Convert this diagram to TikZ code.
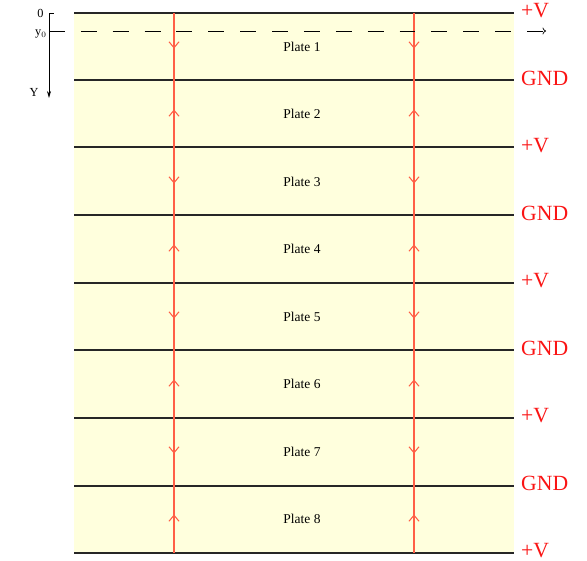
\documentclass[tikz,border=0pt]{standalone}
\usepackage{fontspec}
\setmainfont{Liberation Serif}
\usetikzlibrary{arrows.meta}
\definecolor{platebg}{RGB}{255,255,221}
\definecolor{fieldred}{RGB}{255,95,70}
\definecolor{voltred}{RGB}{250,20,20}
\tikzset{
    plateline/.style = {line width=1.7pt, black!85},
    fieldline/.style = {line width=1pt, fieldred},
    fieldhead/.style = {line width=0.9pt, fieldred, line join=miter},
    volt/.style = {anchor=west, text=voltred, font=\fontsize{18.5}{21}\selectfont, inner sep=0pt},
    platelabel/.style = {font=\fontsize{11.5}{13}\selectfont},
    axislabel/.style = {anchor=east, font=\fontsize{10.5}{12}\selectfont, inner sep=1pt}
}
\begin{document}
\begin{tikzpicture}[x=0.03cm,y=-0.03cm]
        \useasboundingbox (0,0) rectangle (587,561);
        % 背景
        \fill[platebg](74,13)rectangle(514,553);
        \foreach \i/\y in {0/13,1/80,2/147,3/215,4/283,5/350,6/418,7/486,8/553}
        {
        \coordinate(L\i)at(74,\y);
        \coordinate(R\i)at(514,\y);
        \coordinate(a\i)at(174,\y);
        \coordinate(b\i)at(414,\y);
        }
        % 极板
        \foreach \i in {0,...,8}
        {
        \draw[plateline](L\i)to(R\i);
        }
        % 电场线
        \draw[fieldline](a0)to(a8);
        \draw[fieldline](b0)to(b8);
        \foreach \j in {1,3,5,7}
        {
        \coordinate(ma\j)at(174,{13+67.5*(\j-0.5)+1});
        \coordinate(mb\j)at(414,{13+67.5*(\j-0.5)+1});
        \draw[fieldhead](ma\j)++(-5,-6)--(ma\j)--++(5,-6);
        \draw[fieldhead](mb\j)++(-5,-6)--(mb\j)--++(5,-6);
        }
        \foreach \j in {2,4,6,8}
        {
        \coordinate(ma\j)at(174,{13+67.5*(\j-0.5)-4});
        \coordinate(mb\j)at(414,{13+67.5*(\j-0.5)-4});
        \draw[fieldhead](ma\j)++(-5,6)--(ma\j)--++(5,6);
        \draw[fieldhead](mb\j)++(-5,6)--(mb\j)--++(5,6);
        }
        % 标签
        \foreach \i in {1,...,8}
        {
        \node[platelabel](plate\i)at(302,{13+67.5*(\i-0.5)}){Plate \i};
        }
        \foreach \i/\v in {0/+V,1/GND,2/+V,3/GND,4/+V,5/GND,6/+V,7/GND,8/+V}
        {
        \node[volt](volt\i)at(521,{11+67.5*\i}){\v};
        }
        % 坐标轴
        \coordinate(O)at(49,13);
        \coordinate(Yend)at(49,98);
        \coordinate(Y0)at(49,31);
        \coordinate(Y0end)at(546,31);
        \draw[line width=0.8pt,-{Stealth[length=6pt,width=3.5pt]}](O)to(Yend);
        \draw[line width=0.8pt](O)to++(5,0);
        \draw[line width=0.6pt,dash pattern=on 13.6pt off 13.6pt,-{To[length=3pt,width=6pt]}](Y0)to(Y0end);
        \node[axislabel](zero)at(45,13){0};
        \node[axislabel](y0)at(48,34){y$_0$};
        \node[axislabel](ylab)at(40,92){Y};
    \end{tikzpicture}
\end{document}
